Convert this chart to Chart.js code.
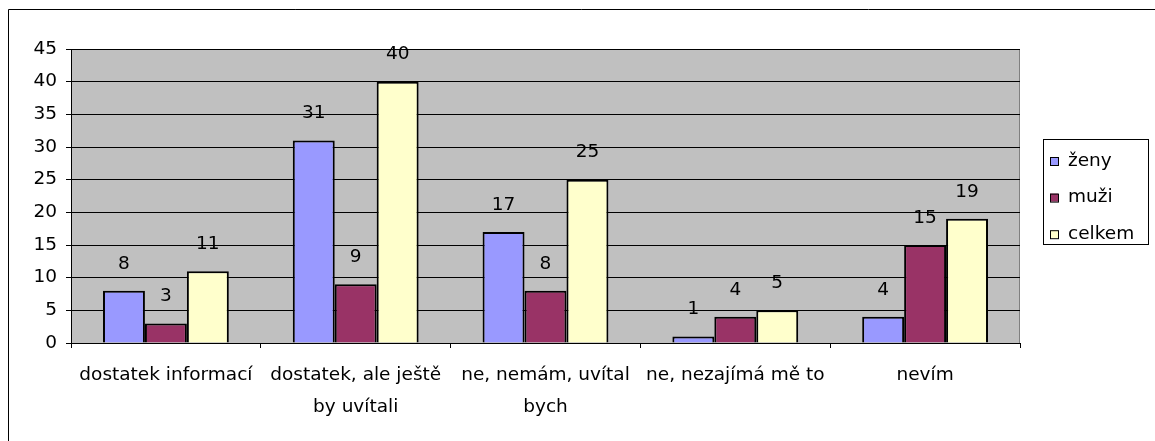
<!DOCTYPE html>
<html lang="cs">
<head>
  <meta charset="UTF-8">
  <title>Informovanost</title>
  <script src="https://cdn.jsdelivr.net/npm/chart.js"></script>
  <style>
    html,body{margin:0;background:#fff;}
    #wrap{width:1155px;height:441px;}
  </style>
</head>
<body>
  <div id="wrap"><canvas id="chart" width="1155" height="441"></canvas></div>

  <script>
    /* ——— DATA ——— */
    const categories = [
      'dostatek informací',
      ['dostatek, ale ještě', 'by uvítali'],
      ['ne, nemám, uvítal', 'bych'],
      'ne, nezajímá mě to',
      'nevím'
    ];
    const seriesNames = ['ženy', 'muži', 'celkem'];
    const zeny   = [8, 31, 17, 1, 4];
    const muzi   = [3, 9, 8, 4, 15];
    const celkem = [11, 40, 25, 5, 19];
    const yMax = 45, yStep = 5;

    const FONT = '"DejaVu Sans", "Liberation Sans", Arial, sans-serif';
    const FSIZE = 18.5;
    const colors = ['#9999FF', '#993366', '#FFFFCC'];

    /* ——— PLUGINS ——— */
    // grey plot area + outer frame
    const plotBg = {
      id: 'plotBg',
      beforeDraw(chart) {
        const {ctx, chartArea: a} = chart;
        ctx.save();
        ctx.fillStyle = '#fff';
        ctx.fillRect(0, 0, chart.width, chart.height);
        ctx.strokeStyle = '#000';
        ctx.lineWidth = 1;
        ctx.beginPath();
        ctx.moveTo(8.5, chart.height);
        ctx.lineTo(8.5, 9.5);
        ctx.lineTo(chart.width, 9.5);
        ctx.stroke();
        ctx.fillStyle = '#C0C0C0';
        ctx.fillRect(a.left, a.top, a.right - a.left, a.bottom - a.top);
        ctx.strokeStyle = '#808080';
        ctx.beginPath();
        ctx.moveTo(a.left, a.top + 0.5);
        ctx.lineTo(a.right - 0.5, a.top + 0.5);
        ctx.lineTo(a.right - 0.5, a.bottom);
        ctx.stroke();
        ctx.restore();
      }
    };

    // value labels above bars
    const barLabels = {
      id: 'barLabels',
      afterDatasetsDraw(chart) {
        const ctx = chart.ctx;
        ctx.save();
        ctx.font = FSIZE + 'px ' + FONT;
        ctx.fillStyle = '#000';
        ctx.textAlign = 'center';
        ctx.textBaseline = 'middle';
        chart.data.datasets.forEach((ds, i) => {
          chart.getDatasetMeta(i).data.forEach((bar, j) => {
            ctx.fillText(String(ds.data[j]), bar.x, bar.y - 27);
          });
        });
        ctx.restore();
      }
    };

    // framed legend on the right
    const boxLegend = {
      id: 'boxLegend',
      afterDraw(chart) {
        const ctx = chart.ctx;
        const x = 1043, y = 139, w = 105, h = 105;
        ctx.save();
        ctx.strokeStyle = '#000';
        ctx.lineWidth = 1;
        ctx.strokeRect(x + 0.5, y + 0.5, w, h);
        ctx.font = FSIZE + 'px ' + FONT;
        ctx.textBaseline = 'middle';
        chart.data.datasets.forEach((ds, i) => {
          const cy = 161 + i * 36.6;
          ctx.fillStyle = ds.backgroundColor;
          ctx.fillRect(1050, cy - 4, 8, 8);
          ctx.strokeRect(1050.5, cy - 3.5, 8, 8);
          ctx.fillStyle = '#000';
          ctx.fillText(ds.label, 1068, cy);
        });
        ctx.restore();
      }
    };

    /* ——— CHART ——— */
    new Chart(document.getElementById('chart'), {
      type: 'bar',
      data: {
        labels: categories,
        datasets: [zeny, muzi, celkem].map((d, i) => ({
          label: seriesNames[i],
          data: d,
          backgroundColor: colors[i],
          borderColor: '#000',
          borderWidth: 2,
          barPercentage: 1,
          categoryPercentage: 0.663
        }))
      },
      options: {
        responsive: false,
        animation: false,
        layout: {padding: {left: 0, top: 49, right: 135, bottom: 0}},
        plugins: {legend: {display: false}, tooltip: {enabled: false}},
        scales: {
          x: {
            afterFit: s => { s.height = 98; },
            border: {display: true, color: '#000', width: 1},
            grid: {offset: true, drawOnChartArea: false, color: '#000', tickLength: 5},
            ticks: {color: '#000', padding: 11, font: {family: FONT, size: FSIZE, lineHeight: 1.73}, maxRotation: 0, autoSkip: false}
          },
          y: {
            min: 0, max: yMax,
            afterFit: s => { s.width = 71; },
            border: {display: true, color: '#000', width: 1},
            grid: {color: '#000', tickColor: '#000', tickLength: 5},
            ticks: {stepSize: yStep, color: '#000', padding: 9, font: {family: FONT, size: FSIZE}}
          }
        }
      },
      plugins: [plotBg, barLabels, boxLegend]
    });
  </script>
</body>
</html>
